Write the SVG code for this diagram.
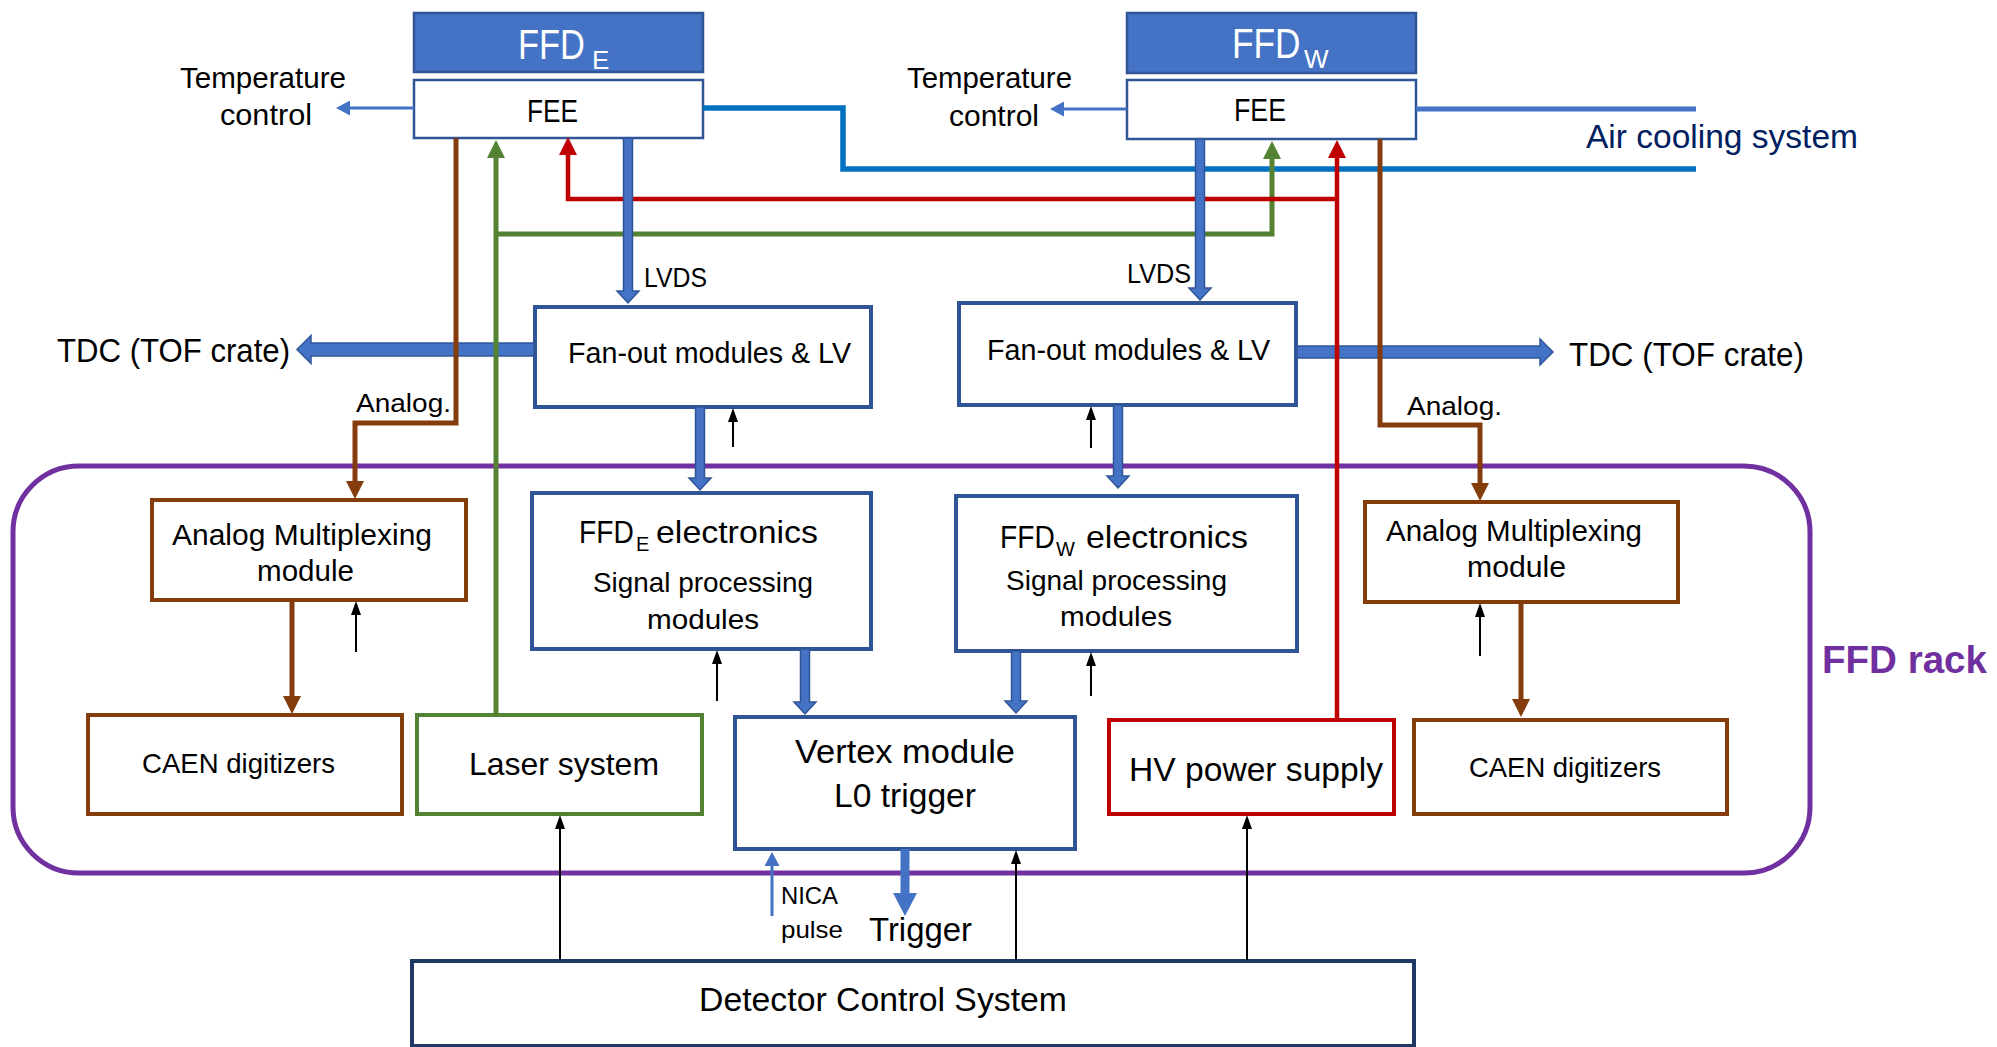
<svg xmlns="http://www.w3.org/2000/svg" width="1997" height="1047" viewBox="0 0 1997 1047">
<style>
text{font-family:"Liberation Sans",Arial,sans-serif;fill:#000}
.box{fill:#fff;stroke-width:4}
.bl{stroke:#2F5597}
.br{stroke:#843C0C}
.gr{stroke:#548235}
.rd{stroke:#C00000}
.hdr{fill:#4472C4;stroke:#2F5597;stroke-width:2.5}
.fee{fill:#fff;stroke:#2F5597;stroke-width:2.5}
.ln{fill:none;stroke-linejoin:miter}
.lbrown{stroke:#843C0C;stroke-width:5}
.lgreen{stroke:#548235;stroke-width:5}
.lred{stroke:#C00000;stroke-width:4.5}
.lblack{stroke:#000;stroke-width:2}
.lblue{stroke:#4472C4;stroke-width:3}
.blk{fill:#4472C4;stroke:#2F5597;stroke-width:1.5}
</style>
<defs>
<marker id="mBrown" viewBox="0 0 18 18" refX="8" refY="9" markerWidth="18" markerHeight="18" markerUnits="userSpaceOnUse" orient="auto"><path d="M0,0 L18,9 L0,18 z" fill="#843C0C"/></marker>
<marker id="mGreen" viewBox="0 0 18 18" refX="8" refY="9" markerWidth="18" markerHeight="18" markerUnits="userSpaceOnUse" orient="auto"><path d="M0,0 L18,9 L0,18 z" fill="#548235"/></marker>
<marker id="mRed" viewBox="0 0 18 18" refX="8" refY="9" markerWidth="18" markerHeight="18" markerUnits="userSpaceOnUse" orient="auto"><path d="M0,0 L18,9 L0,18 z" fill="#C00000"/></marker>
<marker id="mBlack" viewBox="0 0 14 10" refX="8" refY="5" markerWidth="14" markerHeight="10" markerUnits="userSpaceOnUse" orient="auto"><path d="M0,0 L14,5 L0,10 z" fill="#000"/></marker>
<marker id="mBlue" viewBox="0 0 14 15" refX="7" refY="7.5" markerWidth="14" markerHeight="15" markerUnits="userSpaceOnUse" orient="auto"><path d="M0,0 L14,7.5 L0,15 z" fill="#4472C4"/></marker>
</defs>
<rect width="1997" height="1047" fill="#fff"/>

<g id="ffd-rack">
<rect x="13" y="466" width="1797" height="407" rx="66" ry="66" fill="none" stroke="#7030A0" stroke-width="5"/>
<text x="1822" y="673" font-size="39" font-weight="bold" style="fill:#7030A0" textLength="165" lengthAdjust="spacingAndGlyphs">FFD rack</text>
</g>

<g id="ffd-e">
<rect class="hdr" x="414" y="13" width="289" height="59"/>
<text transform="translate(518,59) scale(0.82,1)" font-size="42" style="fill:#fff">FFD</text>
<text x="592" y="69" font-size="26" style="fill:#fff">E</text>
</g>
<g id="fee-e">
<rect class="fee" x="414" y="80" width="289" height="58"/>
<text x="527" y="122" font-size="32" textLength="51" lengthAdjust="spacingAndGlyphs">FEE</text>
</g>
<g id="ffd-w">
<rect class="hdr" x="1127" y="13" width="289" height="60"/>
<text transform="translate(1232,58) scale(0.84,1)" font-size="42" style="fill:#fff">FFD</text>
<text x="1304" y="68" font-size="26" style="fill:#fff">W</text>
</g>
<g id="fee-w">
<rect class="fee" x="1127" y="80" width="289" height="59"/>
<text x="1234" y="121" font-size="32" textLength="52" lengthAdjust="spacingAndGlyphs">FEE</text>
</g>

<g id="temp-e">
<text x="180" y="88" font-size="29" textLength="166" lengthAdjust="spacingAndGlyphs">Temperature</text>
<text x="220" y="125" font-size="29" textLength="92" lengthAdjust="spacingAndGlyphs">control</text>
</g>
<g id="temp-w">
<text x="907" y="88" font-size="29" textLength="165" lengthAdjust="spacingAndGlyphs">Temperature</text>
<text x="949" y="126" font-size="29" textLength="90" lengthAdjust="spacingAndGlyphs">control</text>
</g>
<g id="air-cooling">
<text x="1586" y="148" font-size="33" style="fill:#002060" textLength="272" lengthAdjust="spacingAndGlyphs">Air cooling system</text>
</g>
<g id="tdc-left">
<text x="57" y="362" font-size="33" textLength="233" lengthAdjust="spacingAndGlyphs">TDC (TOF crate)</text>
</g>
<g id="tdc-right">
<text x="1569" y="366" font-size="33" textLength="235" lengthAdjust="spacingAndGlyphs">TDC (TOF crate)</text>
</g>

<g id="fanout-e">
<rect class="box bl" x="535" y="307" width="336" height="100"/>
<text x="568" y="363" font-size="29" textLength="283" lengthAdjust="spacingAndGlyphs">Fan-out modules &amp; LV</text>
</g>
<g id="fanout-w">
<rect class="box bl" x="959" y="303" width="337" height="102"/>
<text x="987" y="360" font-size="29" textLength="283" lengthAdjust="spacingAndGlyphs">Fan-out modules &amp; LV</text>
</g>

<g id="elec-e">
<rect class="box bl" x="532" y="493" width="339" height="156"/>
<text transform="translate(579,543) scale(0.88,1)" font-size="32">FFD</text>
<text x="636" y="551" font-size="20">E</text>
<text x="656" y="543" font-size="32" textLength="162" lengthAdjust="spacingAndGlyphs">electronics</text>
<text x="593" y="592" font-size="28" textLength="220" lengthAdjust="spacingAndGlyphs">Signal processing</text>
<text x="647" y="629" font-size="28" textLength="112" lengthAdjust="spacingAndGlyphs">modules</text>
</g>
<g id="elec-w">
<rect class="box bl" x="956" y="496" width="341" height="155"/>
<text transform="translate(1000,548) scale(0.88,1)" font-size="32">FFD</text>
<text x="1056" y="556" font-size="20">W</text>
<text x="1086" y="548" font-size="32" textLength="162" lengthAdjust="spacingAndGlyphs">electronics</text>
<text x="1006" y="590" font-size="28" textLength="221" lengthAdjust="spacingAndGlyphs">Signal processing</text>
<text x="1060" y="626" font-size="28" textLength="112" lengthAdjust="spacingAndGlyphs">modules</text>
</g>

<g id="mux-e">
<rect class="box br" x="152" y="500" width="314" height="100"/>
<text x="172" y="545" font-size="30" textLength="260" lengthAdjust="spacingAndGlyphs">Analog Multiplexing</text>
<text x="257" y="581" font-size="30" textLength="97" lengthAdjust="spacingAndGlyphs">module</text>
</g>
<g id="mux-w">
<rect class="box br" x="1365" y="502" width="313" height="100"/>
<text x="1386" y="541" font-size="30" textLength="256" lengthAdjust="spacingAndGlyphs">Analog Multiplexing</text>
<text x="1467" y="577" font-size="30" textLength="99" lengthAdjust="spacingAndGlyphs">module</text>
</g>

<g id="caen-e">
<rect class="box br" x="88" y="715" width="314" height="99"/>
<text x="142" y="773" font-size="28" textLength="193" lengthAdjust="spacingAndGlyphs">CAEN digitizers</text>
</g>
<g id="laser">
<rect class="box gr" x="417" y="715" width="285" height="99"/>
<text x="469" y="775" font-size="32" textLength="190" lengthAdjust="spacingAndGlyphs">Laser system</text>
</g>
<g id="vertex">
<rect class="box bl" x="735" y="717" width="340" height="132"/>
<text x="795" y="763" font-size="33" textLength="220" lengthAdjust="spacingAndGlyphs">Vertex module</text>
<text x="834" y="807" font-size="33" textLength="142" lengthAdjust="spacingAndGlyphs">L0 trigger</text>
</g>
<g id="hv">
<rect class="box rd" x="1109" y="720" width="285" height="94"/>
<text x="1129" y="781" font-size="34" textLength="254" lengthAdjust="spacingAndGlyphs">HV power supply</text>
</g>
<g id="caen-w">
<rect class="box br" x="1414" y="720" width="313" height="94"/>
<text x="1469" y="777" font-size="28" textLength="192" lengthAdjust="spacingAndGlyphs">CAEN digitizers</text>
</g>
<g id="dcs">
<rect x="412" y="961" width="1002" height="85" fill="#fff" stroke="#203864" stroke-width="4"/>
<text x="699" y="1011" font-size="34" textLength="368" lengthAdjust="spacingAndGlyphs">Detector Control System</text>
</g>

<g id="connectors">
<path class="blk" d="M534,343 H311 V335.5 L297,349.5 L311,363.5 V356 H534 Z"/>
<path class="blk" d="M1297,346 H1540 V339 L1553,352 L1540,365 V358 H1297 Z"/>
<path class="ln" d="M703,108 H843 V169 H1696" stroke="#0070C0" stroke-width="5.5"/>
<path class="ln" d="M1416,109 H1696" stroke="#4472C4" stroke-width="5"/>
<path class="ln lblue" d="M414,108 H343" marker-end="url(#mBlue)"/>
<path class="ln lblue" d="M1127,109 H1057" marker-end="url(#mBlue)"/>
<path class="ln lbrown" d="M456,138 V423 H355 V489" marker-end="url(#mBrown)"/>
<path class="ln lbrown" d="M1380,139 V425 H1480 V491" marker-end="url(#mBrown)"/>
<path class="ln lbrown" d="M292,600 V704" marker-end="url(#mBrown)"/>
<path class="ln lbrown" d="M1521,602 V707" marker-end="url(#mBrown)"/>
<path class="ln lgreen" d="M496,715 V150" marker-end="url(#mGreen)"/>
<path class="ln lgreen" d="M496,234 H1272 V151" marker-end="url(#mGreen)"/>
<path class="ln lred" d="M1337,720 V150" marker-end="url(#mRed)"/>
<path class="ln lred" d="M1337,199 H568 V147" marker-end="url(#mRed)"/>
<path class="blk" d="M623.5,138 H632.5 V291 H639 L628,303 L617,291 H623.5 Z"/>
<path class="blk" d="M1195.5,139 H1204.5 V288 H1211 L1200,300 L1189,288 H1195.5 Z"/>
<path class="blk" d="M695.5,407 H704.5 V478 H711 L700,490 L689,478 H695.5 Z"/>
<path class="blk" d="M1113.5,405 H1122.5 V476 H1129 L1118,488 L1107,476 H1113.5 Z"/>
<path class="blk" d="M800.5,649 H809.5 V702 H816 L805,714 L794,702 H800.5 Z"/>
<path class="blk" d="M1011.5,651 H1020.5 V701 H1027 L1016,713 L1005,701 H1011.5 Z"/>
<path d="M900.5,849 H909.5 V893 H917 L905,916 L893,893 H900.5 Z" fill="#4472C4"/>
<path class="ln lblue" d="M772,916 V859" marker-end="url(#mBlue)"/>
<path class="ln lblack" d="M356,652 V607" marker-end="url(#mBlack)"/>
<path class="ln lblack" d="M733,447 V414" marker-end="url(#mBlack)"/>
<path class="ln lblack" d="M717,701 V656" marker-end="url(#mBlack)"/>
<path class="ln lblack" d="M1091,448 V412" marker-end="url(#mBlack)"/>
<path class="ln lblack" d="M1091,696 V658" marker-end="url(#mBlack)"/>
<path class="ln lblack" d="M1480,656 V609" marker-end="url(#mBlack)"/>
<path class="ln lblack" d="M560,960 V821" marker-end="url(#mBlack)"/>
<path class="ln lblack" d="M1016,960 V856" marker-end="url(#mBlack)"/>
<path class="ln lblack" d="M1247,960 V821" marker-end="url(#mBlack)"/>
</g>

<g id="labels">
<text x="644" y="287" font-size="28" textLength="63" lengthAdjust="spacingAndGlyphs">LVDS</text>
<text x="1127" y="283" font-size="28" textLength="64" lengthAdjust="spacingAndGlyphs">LVDS</text>
<text x="356" y="412" font-size="25" textLength="95" lengthAdjust="spacingAndGlyphs">Analog.</text>
<text x="1407" y="415" font-size="25" textLength="95" lengthAdjust="spacingAndGlyphs">Analog.</text>
<text x="781" y="904" font-size="24" textLength="57" lengthAdjust="spacingAndGlyphs">NICA</text>
<text x="781" y="938" font-size="24" textLength="62" lengthAdjust="spacingAndGlyphs">pulse</text>
<text x="869" y="941" font-size="33" textLength="103" lengthAdjust="spacingAndGlyphs">Trigger</text>
</g>
</svg>
